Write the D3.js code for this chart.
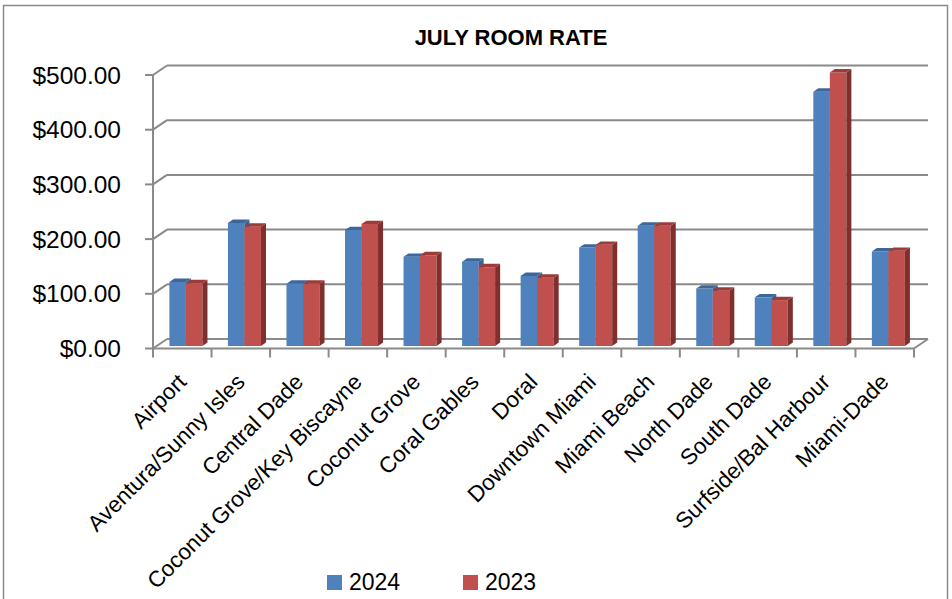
<!DOCTYPE html>
<html><head><meta charset="utf-8">
<script src="https://cdn.jsdelivr.net/npm/d3@7"></script>
<style>body{margin:0;background:#fff}svg{display:block}</style>
</head><body>
<svg id="c" width="952" height="599"></svg>
<script>
const categories = ["Airport","Aventura/Sunny Isles","Central Dade","Coconut Grove/Key Biscayne","Coconut Grove","Coral Gables","Doral","Downtown Miami","Miami Beach","North Dade","South Dade","Surfside/Bal Harbour","Miami-Dade"];
const series = ["2024","2023"];
const values2024 = [117,225,114,212,163,154,128,180,220,105,89,465,173];
const values2023 = [115,218,114,223,166,144,125,185,220,101,84,500,174];
const yTicks = [0,100,200,300,400,500];
const title = "JULY ROOM RATE";

const FONT = "'Liberation Sans', Arial, sans-serif";
const colors = {
  "2024": {front:"#4f81bd", side:"#3a6190", top:"#3d679b"},
  "2023": {front:"#c0504d", side:"#7f2f2d", top:"#9c3b39"}
};
const svg = d3.select("#c");
const grid = "#8a8a8a";

// outer border
svg.append("rect").attr("x",3.5).attr("y",5.5).attr("width",944).attr("height",640)
  .attr("fill","none").attr("stroke",grid).attr("stroke-width",1.5);

const x0 = d3.scaleBand().domain(categories).range([153,914]);
const bw = x0.bandwidth();
const gap = bw*0.436;
const x1 = d3.scaleBand().domain(series).range([gap/2, bw-gap/2]);
const y = d3.scaleLinear().domain([0,500]).range([348.5,75]);
const DX = 14, DY = -9.5;
const P = (x,yy,d)=>[x+d*DX, yy+d*DY];
const d1 = 0.26, d2 = 0.62;

// title
svg.append("text").attr("x",511).attr("y",45).attr("text-anchor","middle")
  .attr("font-family",FONT).attr("font-weight","bold").attr("font-size",22).text(title);

const g = svg.append("g");
const line = (a,b,w)=>g.append("line").attr("x1",a[0]).attr("y1",a[1]).attr("x2",b[0]).attr("y2",b[1])
  .attr("stroke",grid).attr("stroke-width",w||2);

const [xL,xR] = x0.range();
// back gridlines + diagonals
yTicks.forEach(t=>{
  const yy = y(t);
  line(P(xL,yy,0),P(xL,yy,1));
  line(P(xL,yy,1),P(xR,yy,1));
  line([xL-8,yy],[xL,yy]);
});
// floor front edge and right diagonal
line([xL,y(0)],[xR,y(0)]);
line(P(xR,y(0),0),P(xR,y(0),1));
// front y axis
line([xL,y(500)],[xL,y(0)]);
// category ticks
const tickXs = categories.map(c=>x0(c)).concat([xR]);
tickXs.forEach(tx=>line([tx,y(0)],[tx,y(0)+9]));

// y labels
svg.append("g").selectAll("text").data(yTicks).join("text")
  .attr("x",121).attr("y",d=>y(d)).attr("text-anchor","end").attr("dominant-baseline","central")
  .attr("font-family",FONT).attr("font-size",24.5).text(d=>"$"+d3.format(".2f")(d));

// bars
const data = categories.map((c,i)=>({c, vals:[{s:"2024",v:values2024[i]},{s:"2023",v:values2023[i]}]}));
const poly = pts=>pts.map(p=>p.join(",")).join(" ");
const bars = svg.append("g");
data.forEach(d=>{
  d.vals.forEach(b=>{
    const a = x0(d.c)+x1(b.s), e = a + x1.bandwidth();
    const yt = y(b.v), yb = y(0);
    const col = colors[b.s];
    bars.append("polygon").attr("points",poly([P(a,yt,d1),P(e,yt,d1),P(e,yb,d1),P(a,yb,d1)])).attr("fill",col.front);
    bars.append("polygon").attr("points",poly([P(e,yt,d1),P(e,yt,d2),P(e,yb,d2),P(e,yb,d1)])).attr("fill",col.side);
    bars.append("polygon").attr("points",poly([P(a,yt,d1),P(e,yt,d1),P(e,yt,d2),P(a,yt,d2)])).attr("fill",col.top);
  });
});

// category labels
svg.append("g").selectAll("text").data(categories).join("text")
  .attr("transform",c=>`translate(${x0(c)+bw/2},378) rotate(-45)`)
  .attr("text-anchor","end").attr("dominant-baseline","central")
  .attr("font-family",FONT).attr("font-size",22.4).text(c=>c);

// legend
const lg = svg.append("g");
const legX = {"2024":327,"2023":463};
series.forEach(s=>{
  lg.append("rect").attr("x",legX[s]).attr("y",575).attr("width",15).attr("height",15).attr("fill",colors[s].front);
  lg.append("text").attr("x",legX[s]+22).attr("y",590).attr("font-family",FONT).attr("font-size",23).text(s);
});
</script>
</body></html>
